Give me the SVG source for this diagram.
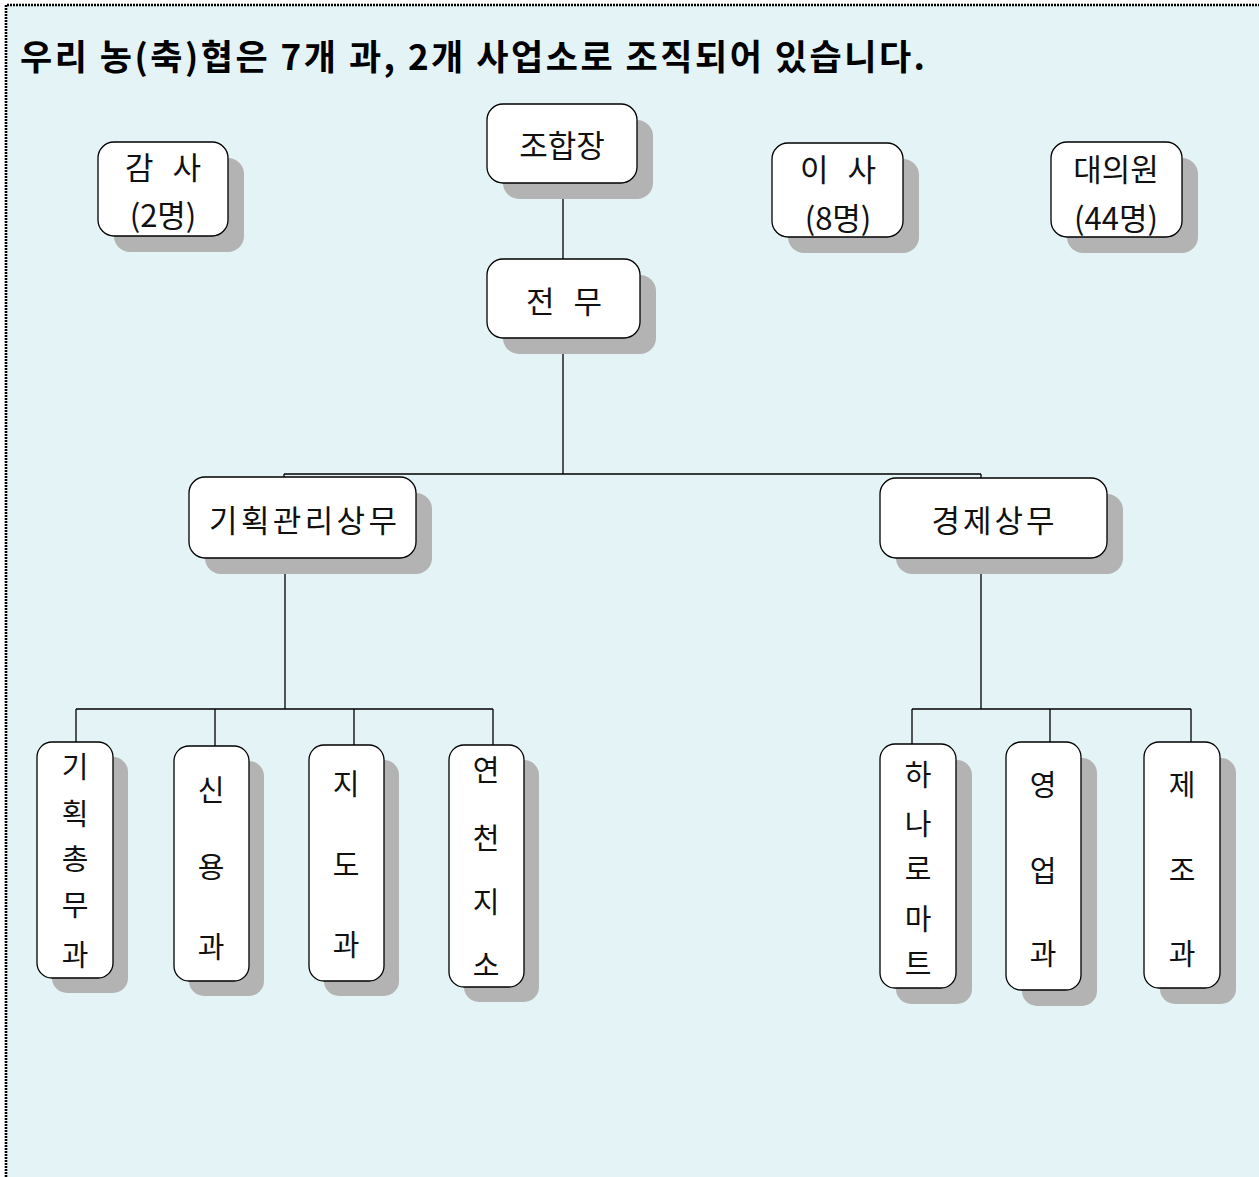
<svg xmlns="http://www.w3.org/2000/svg" width="1259" height="1177" viewBox="0 0 1259 1177">
<style>
.bg{fill:#E4F3F5}
.sh{fill:#B3B3B3}
.bx{fill:#FFFFFF;stroke:#000;stroke-width:1.3}
.t{font-family:"Noto Sans CJK KR","Noto Sans",sans-serif;font-size:31px;fill:#111;text-anchor:middle;dominant-baseline:central}
.w{word-spacing:12px}
.v{font-size:29px}
.title{font-family:"Noto Sans CJK KR","Noto Sans",sans-serif;font-size:35px;font-weight:bold;fill:#000}
.ln{stroke:#000;stroke-width:1.3;fill:none}
</style>
<rect x="0" y="0" width="1259" height="1177" fill="#FFFFFF"/>
<rect class="bg" x="6" y="5" width="1253" height="1172"/>
<path d="M6 1177 V5 H1259" fill="none" stroke="#000" stroke-width="2.6" stroke-dasharray="2 1"/>
<text class="title" x="20" y="70" textLength="905" lengthAdjust="spacing">우리 농(축)협은 7개 과, 2개 사업소로 조직되어 있습니다.</text>
<g id="connectors">
<path class="ln" d="M563 183 V259 M563 338 V474 M284 474 H981 M284 474 V477 M981 474 V478"/>
<path class="ln" d="M285 558 V709 M76 709 H493 M76 709 V742 M215 709 V746 M354 709 V745 M493 709 V745"/>
<path class="ln" d="M981 558 V709 M912 709 H1191 M912 709 V744 M1050 709 V742 M1191 709 V742"/>
</g>
<g id="n-gamsa">
<rect class="sh" x="114" y="158" width="130" height="94" rx="16"/>
<rect class="bx" x="98" y="142" width="130" height="94" rx="16"/>
<text class="t w" x="163" y="165">감 사</text>
<text class="t" x="163" y="213">(2명)</text>
</g>
<g id="n-johapjang">
<rect class="sh" x="503" y="120" width="150" height="79" rx="16"/>
<rect class="bx" x="487" y="104" width="150" height="79" rx="16"/>
<text class="t" x="562" y="143">조합장</text>
</g>
<g id="n-isa">
<rect class="sh" x="788" y="159" width="131" height="94" rx="16"/>
<rect class="bx" x="772" y="143" width="131" height="94" rx="16"/>
<text class="t w" x="838" y="167">이 사</text>
<text class="t" x="838" y="216">(8명)</text>
</g>
<g id="n-daeuiwon">
<rect class="sh" x="1067" y="158" width="131" height="95" rx="16"/>
<rect class="bx" x="1051" y="142" width="131" height="95" rx="16"/>
<text class="t" x="1116" y="167">대의원</text>
<text class="t" x="1116" y="216">(44명)</text>
</g>
<g id="n-jeonmu">
<rect class="sh" x="503" y="275" width="153" height="79" rx="16"/>
<rect class="bx" x="487" y="259" width="153" height="79" rx="16"/>
<text class="t w" x="564" y="299">전 무</text>
</g>
<g id="n-gihoek">
<rect class="sh" x="205" y="493" width="227" height="81" rx="16"/>
<rect class="bx" x="189" y="477" width="227" height="81" rx="16"/>
<text class="t" x="303" y="518" textLength="188" lengthAdjust="spacing">기획관리상무</text>
</g>
<g id="n-gyeongje">
<rect class="sh" x="896" y="494" width="227" height="80" rx="16"/>
<rect class="bx" x="880" y="478" width="227" height="80" rx="16"/>
<text class="t" x="993" y="518" textLength="123" lengthAdjust="spacing">경제상무</text>
</g>
<g id="n-chongmu">
<rect class="sh" x="52" y="757" width="76" height="236" rx="15"/>
<rect class="bx" x="37" y="742" width="76" height="236" rx="15"/>
<text class="t v" x="75" y="765">기</text>
<text class="t v" x="75" y="812">획</text>
<text class="t v" x="75" y="857">총</text>
<text class="t v" x="75" y="903">무</text>
<text class="t v" x="75" y="953">과</text>
</g>
<g id="n-sinyong">
<rect class="sh" x="189" y="761" width="75" height="235" rx="15"/>
<rect class="bx" x="174" y="746" width="75" height="235" rx="15"/>
<text class="t v" x="211" y="788">신</text>
<text class="t v" x="211" y="865">용</text>
<text class="t v" x="211" y="945">과</text>
</g>
<g id="n-jido">
<rect class="sh" x="324" y="760" width="75" height="236" rx="15"/>
<rect class="bx" x="309" y="745" width="75" height="236" rx="15"/>
<text class="t v" x="346" y="782">지</text>
<text class="t v" x="346" y="863">도</text>
<text class="t v" x="346" y="943">과</text>
</g>
<g id="n-yeoncheon">
<rect class="sh" x="464" y="760" width="75" height="242" rx="15"/>
<rect class="bx" x="449" y="745" width="75" height="242" rx="15"/>
<text class="t v" x="486" y="768">연</text>
<text class="t v" x="486" y="836">천</text>
<text class="t v" x="486" y="900">지</text>
<text class="t v" x="486" y="963">소</text>
</g>
<g id="n-hanaro">
<rect class="sh" x="896" y="760" width="76" height="244" rx="15"/>
<rect class="bx" x="880" y="744" width="76" height="244" rx="15"/>
<text class="t v" x="918" y="773">하</text>
<text class="t v" x="918" y="822">나</text>
<text class="t v" x="918" y="867">로</text>
<text class="t v" x="918" y="917">마</text>
<text class="t v" x="918" y="962">트</text>
</g>
<g id="n-yeongeop">
<rect class="sh" x="1022" y="758" width="75" height="248" rx="15"/>
<rect class="bx" x="1006" y="742" width="75" height="248" rx="15"/>
<text class="t v" x="1043" y="783">영</text>
<text class="t v" x="1043" y="869">업</text>
<text class="t v" x="1043" y="952">과</text>
</g>
<g id="n-jejo">
<rect class="sh" x="1160" y="758" width="76" height="246" rx="15"/>
<rect class="bx" x="1144" y="742" width="76" height="246" rx="15"/>
<text class="t v" x="1182" y="783">제</text>
<text class="t v" x="1182" y="868">조</text>
<text class="t v" x="1182" y="952">과</text>
</g>
</svg>
